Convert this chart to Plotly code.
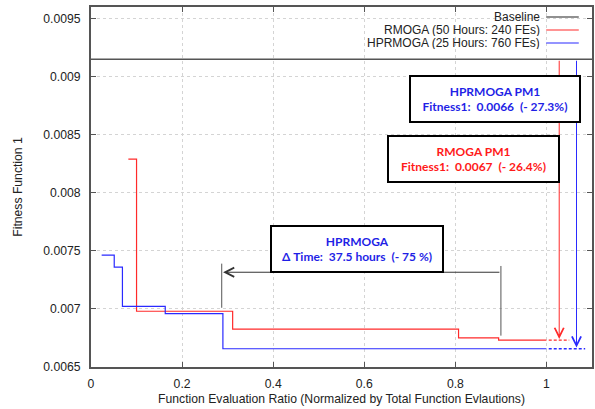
import plotly.graph_objects as go

# ---- data ----
baseline_value = 0.00915
baseline_x = [0.0, 1.1]

rmoga_x = [0.082, 0.100, 0.311, 0.807, 0.895, 1.0]
rmoga_y = [0.00829, 0.00698, 0.006827, 0.00675, 0.006732, 0.006732]
rmoga_ext_x = [1.005, 1.05]

hprmoga_x = [0.0234, 0.051, 0.069, 0.163, 0.2896, 1.0]
hprmoga_y = [0.007463, 0.00736, 0.007022, 0.00696, 0.006657, 0.006657]
hprmoga_ext_x = [1.005, 1.085]

series_names = ["Baseline", "RMOGA (50 Hours: 240 FEs)", "HPRMOGA (25 Hours: 760 FEs)"]
series_colors = ["#222222", "#ff2a2a", "#2a2aff"]

x_ticks = [0, 0.2, 0.4, 0.6, 0.8, 1.0]
x_tick_labels = ["0", "0.2", "0.4", "0.6", "0.8", "1"]
y_ticks = [0.0065, 0.007, 0.0075, 0.008, 0.0085, 0.009, 0.0095]
y_tick_labels = ["0.0065", "0.007", "0.0075", "0.008", "0.0085", "0.009", "0.0095"]

rmoga_arrow_x = 1.028
hprmoga_arrow_x = 1.066
time_start_x = 0.287
time_end_x = 0.90
time_arrow_y = 0.007316

NB = "\u00a0"
TXT = "#222222"

fig = go.Figure()

fig.add_trace(go.Scatter(x=baseline_x, y=[baseline_value, baseline_value], mode="lines",
                         line=dict(color="#555555", width=1.3), name=series_names[0]))
fig.add_trace(go.Scatter(x=rmoga_x, y=rmoga_y, mode="lines", line_shape="hv",
                         line=dict(color=series_colors[1], width=1.2), name=series_names[1]))
fig.add_trace(go.Scatter(x=hprmoga_x, y=hprmoga_y, mode="lines", line_shape="hv",
                         line=dict(color=series_colors[2], width=1.2), name=series_names[2]))
fig.add_trace(go.Scatter(x=rmoga_ext_x, y=[rmoga_y[-1]] * 2, mode="lines",
                         line=dict(color=series_colors[1], width=1.3, dash="3px,2px")))
fig.add_trace(go.Scatter(x=hprmoga_ext_x, y=[hprmoga_y[-1]] * 2, mode="lines",
                         line=dict(color=series_colors[2], width=1.3, dash="3px,2px")))

# time-difference markers (vertical bars)
fig.add_trace(go.Scatter(x=[time_start_x, time_start_x], y=[0.00739, 0.00701], mode="lines",
                         line=dict(color="#555555", width=1)))
fig.add_trace(go.Scatter(x=[time_end_x, time_end_x], y=[0.00737, 0.00677], mode="lines",
                         line=dict(color="#555555", width=1)))

annotations = []
# horizontal time arrow
annotations.append(dict(x=time_start_x + 0.003, y=time_arrow_y, ax=time_end_x, ay=time_arrow_y,
                        xref="x", yref="y", axref="x", ayref="y", text="", showarrow=True,
                        arrowhead=5, arrowsize=1.8, arrowwidth=1, arrowcolor="#333333"))
# vertical arrows from baseline
annotations.append(dict(x=rmoga_arrow_x, y=rmoga_y[-1] + 0.00001, ax=rmoga_arrow_x, ay=baseline_value,
                        xref="x", yref="y", axref="x", ayref="y", text="", showarrow=True,
                        arrowhead=5, arrowsize=1.8, arrowwidth=1, arrowcolor=series_colors[1]))
annotations.append(dict(x=hprmoga_arrow_x, y=hprmoga_y[-1] + 0.00001, ax=hprmoga_arrow_x, ay=baseline_value,
                        xref="x", yref="y", axref="x", ayref="y", text="", showarrow=True,
                        arrowhead=5, arrowsize=1.8, arrowwidth=1, arrowcolor=series_colors[2]))

box_font = "Lato"
def box(x, y, text, color, w):
    return dict(x=x, y=y, xref="x", yref="y", text=text, showarrow=False,
                font=dict(family=box_font, size=12, color=color, weight="bold"),
                bgcolor="white", bordercolor="black", borderwidth=2, borderpad=2,
                width=w, height=40, align="center", valign="middle")

annotations.append(box(0.585, 0.00752,
                       f"HPRMOGA<br>Δ{NB}Time:{NB}{NB}37.5{NB}hours{NB}{NB}(-{NB}75{NB}%)",
                       "#1f1fe6", 166))
annotations.append(box(0.888, 0.008806,
                       f"HPRMOGA{NB}PM1<br>Fitness1:{NB}{NB}0.0066{NB}{NB}(-{NB}27.3%)",
                       "#1f1fe6", 164))
annotations.append(box(0.840, 0.008294,
                       f"RMOGA{NB}PM1<br>Fitness1:{NB}{NB}0.0067{NB}{NB}(-{NB}26.4%)",
                       "#ff1a1a", 165))

# custom legend (text left of sample, right aligned)
legend_rows_y = [0.9722, 0.9361, 0.9000]
shapes = []
for name, color, yy in zip(series_names, series_colors, legend_rows_y):
    annotations.append(dict(x=0.8985, y=yy, xref="paper", yref="paper", text=name,
                            showarrow=False, xanchor="right", yanchor="middle",
                            borderpad=0, height=12,
                            font=dict(family="Liberation Sans", size=12, color=TXT)))
    shapes.append(dict(type="line", xref="paper", yref="paper", x0=0.9085, x1=0.9736,
                       y0=yy, y1=yy, line=dict(color=color, width=1.2)))

axis_common = dict(showline=True, linecolor="#555555", linewidth=2, mirror="ticks",
                   ticks="inside", ticklen=5, tickcolor="#555555", tickwidth=1,
                   showgrid=True, gridcolor="#d4d4d4", griddash="dot", gridwidth=1,
                   zeroline=False, tickfont=dict(family="Liberation Sans", size=12.2, color=TXT))

fig.update_layout(
    width=595, height=409,
    margin=dict(l=91, r=1, t=7, b=42),
    plot_bgcolor="white", paper_bgcolor="white",
    showlegend=False,
    annotations=annotations, shapes=shapes,
    xaxis=dict(range=[0, 1.1], tickvals=x_ticks, ticktext=x_tick_labels,
               ticklabelstandoff=4,
               title=dict(text="Function Evaluation Ratio (Normalized by Total Function Evlautions)",
                          font=dict(family="Liberation Sans", size=12.2, color=TXT), standoff=5),
               **axis_common),
    yaxis=dict(range=[0.0065, 0.0096], tickvals=y_ticks, ticktext=y_tick_labels,
               ticklabelstandoff=6,
               title=dict(text="Fitness Function 1",
                          font=dict(family="Liberation Sans", size=12.2, color=TXT), standoff=18),
               **axis_common),
)

fig.write_html("out.html")
